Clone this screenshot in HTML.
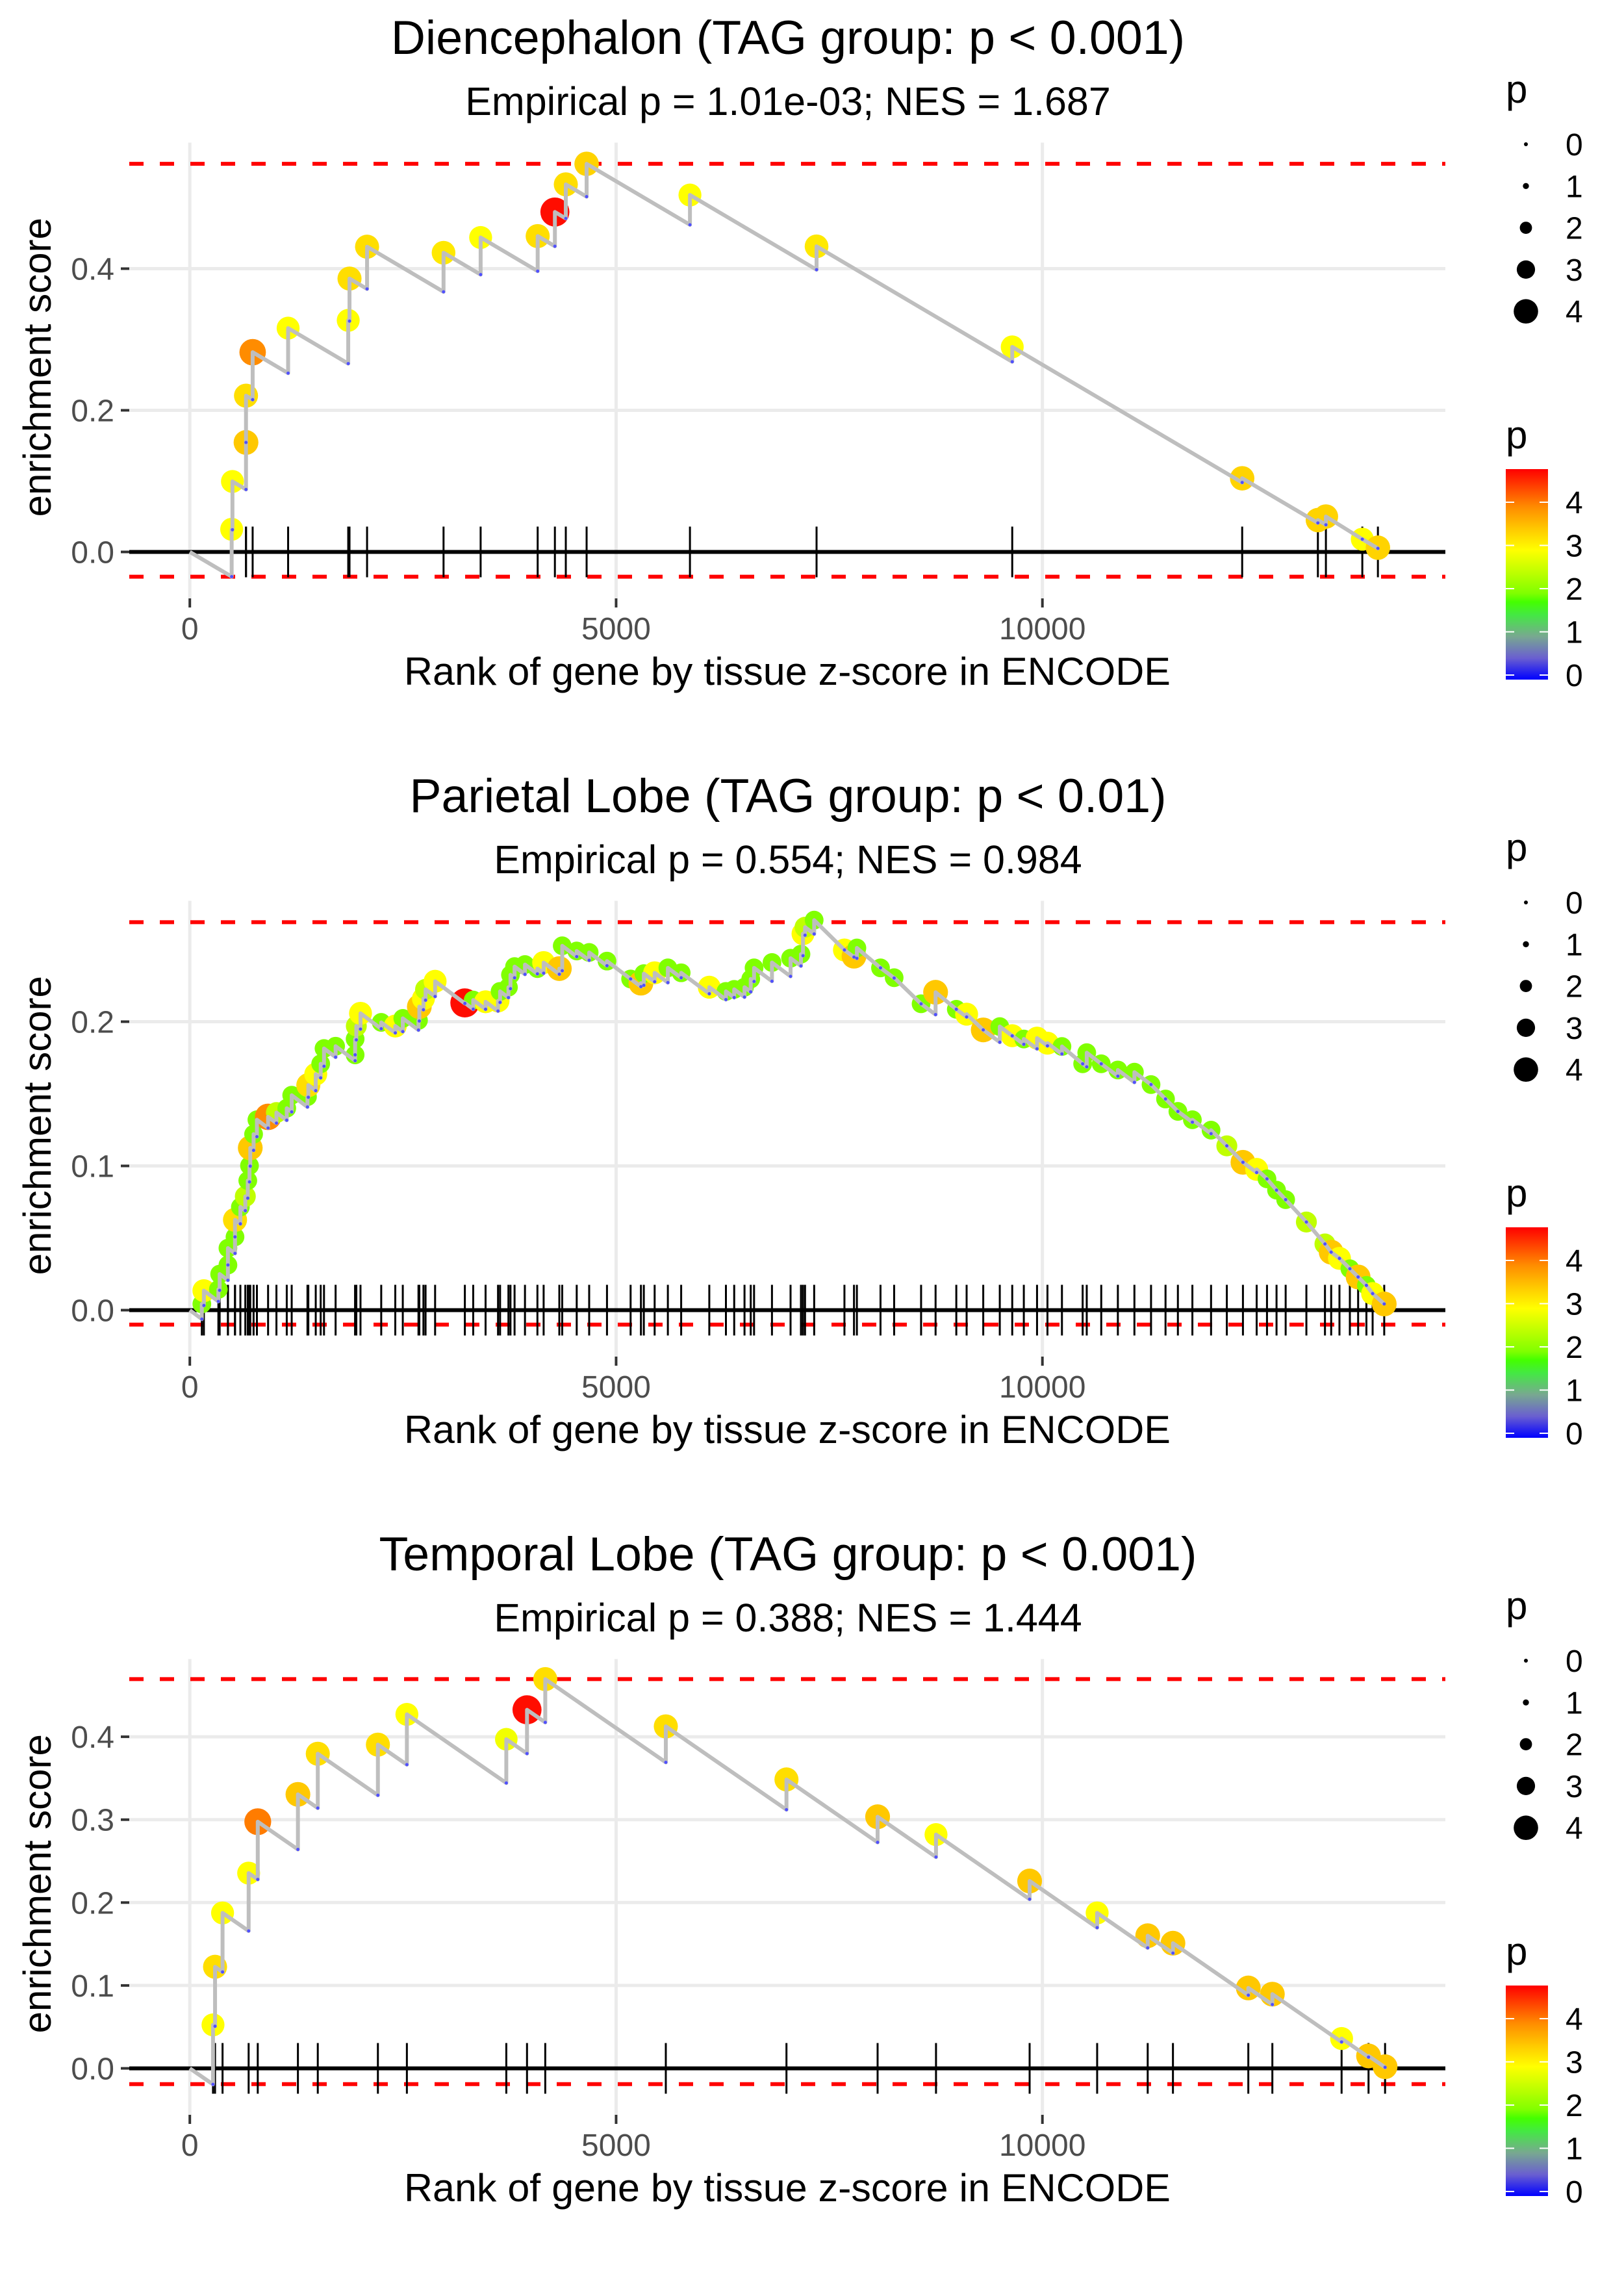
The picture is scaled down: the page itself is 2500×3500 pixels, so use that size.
<!DOCTYPE html>
<html><head><meta charset="utf-8"><style>
html,body{margin:0;padding:0;background:#fff;}
svg{display:block;font-family:"Liberation Sans",sans-serif;}
</style></head><body>
<svg id="chart" xmlns="http://www.w3.org/2000/svg" width="2500" height="3500" viewBox="0 0 2500 3500">
<defs>
<linearGradient id="pgrad" x1="0" y1="1" x2="0" y2="0">
<stop offset="0" stop-color="#0000ff"/><stop offset="0.102" stop-color="#6a5fd0"/>
<stop offset="0.205" stop-color="#78a890"/><stop offset="0.307" stop-color="#44e844"/>
<stop offset="0.369" stop-color="#44ff00"/><stop offset="0.41" stop-color="#80ff00"/>
<stop offset="0.512" stop-color="#c0ff00"/><stop offset="0.615" stop-color="#ffff00"/>
<stop offset="0.717" stop-color="#ffc800"/><stop offset="0.82" stop-color="#ff8c00"/>
<stop offset="1" stop-color="#ff0000"/>
</linearGradient>
</defs>
<rect x="0" y="0" width="2500" height="3500" fill="#fff"/>
<g id="root"></g>
</svg>
<script>
// ---------- data ----------
const p1Ranks=[491,500,659,659,737,1153,1858,1873,2079,2976,3411,4080,4282,4410,4654,5866,7351,9646,12343,13231,13325,13752,13935];
const p1ES=[0.032,0.0995,0.1546,0.2206,0.282,0.316,0.327,0.386,0.431,0.4225,0.444,0.446,0.480,0.519,0.548,0.504,0.4315,0.2895,0.104,0.045,0.050,0.018,0.006];
const p1P=[3.0,3.0,3.5,3.3,4.0,3.0,3.0,3.3,3.3,3.2,3.0,3.3,4.8,3.3,3.4,3.0,3.2,3.0,3.4,3.4,3.4,3.0,3.4];
const p1Dash=[0.548,-0.035];
const p1YTicks=[0.0,0.2,0.4];

const p2Ranks=[141,165,335,350,447,447,530,530,593,651,680,700,709,748,787,918,1016,1137,1195,1380,1390,1477,1535,1574,1710,1939,1939,1953,2002,2245,2410,2498,2682,2692,2740,2765,2877,3226,3324,3469,3615,3639,3737,3761,3809,3931,4077,4150,4334,4368,4538,4684,4893,5170,5291,5325,5452,5607,5763,6093,6288,6385,6506,6579,6618,6828,7046,7168,7192,7216,7323,7678,7790,7824,8101,8261,8577,8747,8990,9111,9306,9500,9646,9782,9937,10059,10229,10472,10520,10690,10885,11079,11274,11444,11589,11759,11978,12163,12352,12513,12634,12746,12853,13096,13314,13387,13484,13606,13703,13800,13873,14009];
const p2ES=[0.0043,0.0135,0.0144,0.025,0.0313,0.043,0.0508,0.0626,0.0715,0.0789,0.0898,0.1002,0.1125,0.122,0.132,0.134,0.137,0.140,0.149,0.148,0.156,0.1636,0.1708,0.1814,0.183,0.177,0.188,0.197,0.2058,0.1995,0.197,0.2023,0.2009,0.2104,0.216,0.2224,0.228,0.213,0.215,0.2138,0.2144,0.221,0.2239,0.2325,0.2382,0.2396,0.2368,0.241,0.2368,0.2526,0.249,0.248,0.242,0.2296,0.2267,0.2333,0.2339,0.2373,0.2339,0.2239,0.221,0.2224,0.2239,0.2296,0.2373,0.241,0.244,0.2468,0.261,0.2655,0.2704,0.2497,0.2454,0.2511,0.2373,0.2305,0.2124,0.2204,0.2086,0.2052,0.1943,0.1966,0.1903,0.188,0.1886,0.1851,0.1828,0.1708,0.1785,0.1708,0.1665,0.165,0.1564,0.1464,0.1378,0.132,0.1248,0.1139,0.1025,0.0976,0.091,0.0832,0.0766,0.0611,0.0459,0.0402,0.0359,0.0287,0.023,0.0172,0.0115,0.0043];
const p2P=[2.0,3.0,2.0,2.0,2.0,2.0,2.0,3.3,2.0,2.5,2.0,2.0,3.5,2.0,2.0,4.0,2.5,2.0,2.0,2.0,3.3,3.0,2.0,2.0,2.0,2.0,2.0,2.5,3.0,2.0,3.0,2.0,2.0,3.5,3.0,2.5,3.0,4.8,2.0,3.0,3.0,2.0,2.0,2.0,2.0,2.0,2.0,3.0,3.5,2.0,2.0,2.0,2.0,2.0,3.5,2.0,3.0,2.0,2.0,3.0,2.0,2.0,2.0,2.0,2.0,2.0,2.0,2.0,3.0,2.5,2.0,3.0,3.5,2.0,2.0,2.0,2.0,3.5,2.0,3.0,3.5,2.0,3.0,2.0,3.0,3.0,2.0,2.0,2.0,2.0,2.0,2.0,2.0,2.0,2.0,2.0,2.0,2.5,3.5,3.0,2.0,2.0,2.0,2.5,2.5,3.5,3.0,2.0,3.5,2.0,3.0,3.5];
const p2Dash=[0.269,-0.010];
const p2YTicks=[0.0,0.1,0.2];

const p3Ranks=[272,296,384,690,797,1268,1501,2206,2546,3712,3955,4169,5583,6998,8067,8752,9850,10642,11235,11531,12415,12697,13509,13825,14019];
const p3ES=[0.0525,0.1225,0.1875,0.2355,0.2975,0.3305,0.3795,0.3905,0.427,0.397,0.4325,0.4695,0.4125,0.3485,0.3035,0.282,0.226,0.1875,0.160,0.151,0.097,0.0895,0.036,0.015,0.002];
const p3P=[3.0,3.3,3.0,3.0,4.1,3.5,3.3,3.3,3.0,2.9,4.8,3.3,3.3,3.3,3.5,3.0,3.5,3.0,3.5,3.5,3.5,3.5,3.0,3.5,3.5];
const p3Dash=[0.4695,-0.019];
const p3YTicks=[0.0,0.1,0.2,0.3,0.4];

const xTicks=[0,5000,10000];
const sizeLegendValues=[0,1,2,3,4];
const colorLegendValues=[0,1,2,3,4];

const titles=["Diencephalon (TAG group: p < 0.001)","Parietal Lobe (TAG group: p < 0.01)","Temporal Lobe (TAG group: p < 0.001)"];
const subtitles=["Empirical p = 1.01e-03; NES = 1.687","Empirical p = 0.554; NES = 0.984","Empirical p = 0.388; NES = 1.444"];

// ---------- layout ----------
const NS="http://www.w3.org/2000/svg";
const root=document.getElementById('root');
const PANEL_OFF=1167;
const panels=[
 {ranks:p1Ranks,es:p1ES,p:p1P,dash:p1Dash,yt:p1YTicks,zero:849.5,k:1090,d:7.1e-5},
 {ranks:p2Ranks,es:p2ES,p:p2P,dash:p2Dash,yt:p2YTicks,zero:849.5+PANEL_OFF,k:2220,d:4.4e-5},
 {ranks:p3Ranks,es:p3ES,p:p3P,dash:p3Dash,yt:p3YTicks,zero:849.5+2*PANEL_OFF,k:1276,d:7.1e-5}
];
const PL=199, PR=2225;
function xs(r){return 292.2+r*0.13125;}
const stops=[[0,[0,0,255]],[0.5,[106,95,208]],[1,[120,168,144]],[1.5,[68,232,68]],[1.8,[68,255,0]],[2,[128,255,0]],[2.5,[192,255,0]],[3,[255,255,0]],[3.5,[255,200,0]],[4,[255,140,0]],[4.88,[255,0,0]]];
function col(v){
 if(v<=0)return 'rgb(0,0,255)';
 for(let i=1;i<stops.length;i++){
  if(v<=stops[i][0]){const a=stops[i-1],b=stops[i];const t=(v-a[0])/(b[0]-a[0]);
   const c=a[1].map((q,j)=>Math.round(q+(b[1][j]-q)*t));return 'rgb('+c.join(',')+')';}
 }
 return 'rgb(255,0,0)';
}
function rad(v){return Math.max(3,10.2*Math.sqrt(v));}
function mk(tag,attrs,parent){const e=document.createElementNS(NS,tag);for(const k in attrs)e.setAttribute(k,attrs[k]);(parent||root).appendChild(e);return e;}

panels.forEach((P,pi)=>{
 const ys=v=>P.zero-v*P.k;
 const off=pi*PANEL_OFF;
 const g=mk('g',{});
 
 
 const top=P.zero-630, bot=P.zero+71.5;
 const t=mk('text',{x:1213,y:83+off,'text-anchor':'middle','font-size':73.5,fill:'#000'},g);
 t.textContent=titles[pi];
 
 
 const st=mk('text',{x:1213,y:177+off,'text-anchor':'middle','font-size':61,fill:'#000'},g);
 st.textContent=subtitles[pi];
 
 
 P.yt.forEach(v=>{
  const l=mk('line',{x1:PL,x2:PR,y1:ys(v),y2:ys(v),stroke:'#ebebeb','stroke-width':5},g);
  
  
  const tk=mk('line',{x1:186,x2:199,y1:ys(v),y2:ys(v),stroke:'#333','stroke-width':4},g);
  
  
  const tl=mk('text',{x:176,y:ys(v)+17,'text-anchor':'end','font-size':48,fill:'#4d4d4d'},g);
  tl.textContent=v.toFixed(1);
  
  
 });
 xTicks.forEach(v=>{
  const l=mk('line',{x1:xs(v),x2:xs(v),y1:top,y2:bot,stroke:'#ebebeb','stroke-width':5},g);
  
  
  const tk=mk('line',{x1:xs(v),x2:xs(v),y1:bot,y2:bot+14,stroke:'#333','stroke-width':4},g);
  
  
  const tl=mk('text',{x:xs(v),y:984+off,'text-anchor':'middle','font-size':48,fill:'#4d4d4d'},g);
  tl.textContent=String(v);
  
  
 });
 const xt=mk('text',{x:1212,y:1054+off,'text-anchor':'middle','font-size':60,fill:'#000',textLength:1180,lengthAdjust:'spacingAndGlyphs'},g);
 xt.textContent='Rank of gene by tissue z-score in ENCODE';
 
 
 const cy=(top+bot)/2-5;
 const yt=mk('text',{x:0,y:0,'text-anchor':'middle','font-size':60,fill:'#000',transform:'translate(78,'+cy+') rotate(-90)'},g);
 yt.textContent='enrichment score';
 
 
 P.dash.forEach((v,i)=>{
  const l=mk('line',{x1:PL,x2:PR,y1:ys(v),y2:ys(v),stroke:'#ff0000','stroke-width':6,'stroke-dasharray':'22 25'},g);
  
  
 });
 const z=mk('line',{x1:PL,x2:PR,y1:ys(0),y2:ys(0),stroke:'#000','stroke-width':6},g);
 
 
 P.ranks.forEach(r=>{
  const l=mk('line',{x1:xs(r),x2:xs(r),y1:ys(0)-39,y2:ys(0)+39,stroke:'#000','stroke-width':3},g);
  
  
 });
 let prevR=0, prevE=0; let dstr='M'+xs(0)+','+ys(0);
 const pre=[];
 P.ranks.forEach((r,i)=>{
  let pe=prevE-P.d*(r-prevR);
  if(pe>P.es[i])pe=P.es[i];
  pre.push(pe);
  dstr+=' L'+xs(r)+','+ys(pe)+' L'+xs(r)+','+ys(P.es[i]);
  prevR=r; prevE=P.es[i];
 });
 P.ranks.forEach((r,i)=>{
  const c=mk('circle',{cx:xs(r),cy:ys(P.es[i]),r:rad(P.p[i]),fill:col(P.p[i])},g);
  
  
 });
 const path=mk('path',{d:dstr,fill:'none',stroke:'#bebebe','stroke-width':6,'stroke-linejoin':'round'},g);
 
 
 P.ranks.forEach((r,i)=>{
  const c=mk('circle',{cx:xs(r),cy:ys(pre[i]),r:2.5,fill:'#5050ff'},g);
  
  
 });
 const lg=mk('g',{},g);
 
 
 const lt=mk('text',{x:2318,y:158+off,'font-size':60,fill:'#000'},lg);
 lt.textContent='p';
 
 
 sizeLegendValues.forEach((v,i)=>{
  const yy=222+i*64.3+off;
  const c=mk('circle',{cx:2349,cy:yy,r:Math.max(3,4.7*v),fill:'#000'},lg);
  
  
  const tx=mk('text',{x:2410,y:yy+17,'font-size':48,fill:'#000'},lg);
  tx.textContent=String(v);
  
  
 });
 const cg=mk('g',{},g);
 
 
 const ct=mk('text',{x:2318,y:690+off,'font-size':60,fill:'#000'},cg);
 ct.textContent='p';
 
 
 const bar=mk('rect',{x:2318,y:722+off,width:65,height:324,fill:'url(#pgrad)'},cg);
 
 
 colorLegendValues.forEach(v=>{
  const yy=1039-v*66.5+off;
  const a=mk('line',{x1:2318,x2:2331,y1:yy,y2:yy,stroke:'#fff','stroke-width':2},cg);
  
  
  const b=mk('line',{x1:2370,x2:2383,y1:yy,y2:yy,stroke:'#fff','stroke-width':2},cg);
  
  
  const tx=mk('text',{x:2410,y:yy+17,'font-size':48,fill:'#000'},cg);
  tx.textContent=String(v);
  
  
 });
});
</script>
</body></html>
